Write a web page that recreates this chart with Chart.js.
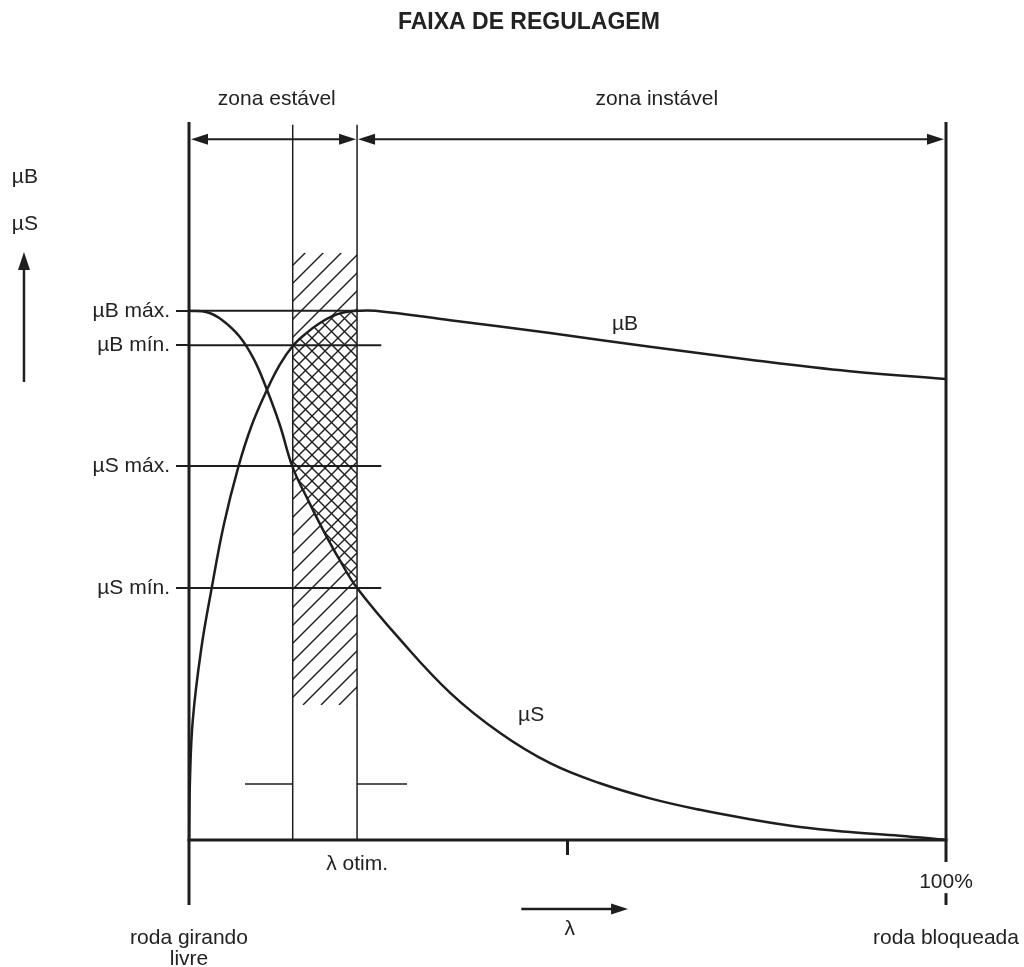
<!DOCTYPE html>
<html><head><meta charset="utf-8">
<script src="https://cdn.jsdelivr.net/npm/chart.js@4.4.1/dist/chart.umd.min.js"></script>
<style>html,body{margin:0;padding:0;background:#fff}#wrap{width:1024px;height:967px;position:relative}</style>
</head><body><div id="wrap"><canvas id="c"></canvas></div>
<script>
// λ (% of slip: 0 = roda girando livre, 100 = roda bloqueada) and friction values (arbitrary units 0..100)
const lambdaMuB = [0,0.13,0.5,1.6,3.0,4.6,6.5,8.3,10.3,12.0,13.7,15.5,17.3,19.0,20.6,22.2,24.6,34.5,47.7,60.9,74.1,87.3,100];
const muB       = [0,8.4,16.7,26.5,35.1,43.9,51.9,57.8,62.7,66.2,68.8,70.6,72.0,73.0,73.5,73.7,73.7,72.4,70.6,68.7,66.9,65.3,64.2];
const lambdaMuS = [0,2.4,4.4,6.7,8.6,10.3,12.0,13.7,15.7,17.7,19.9,22.2,27.9,34.5,41.1,47.7,54.3,60.9,67.5,74.1,80.7,87.3,93.9,100];
const muS       = [73.7,73.5,72.4,70.1,66.9,62.7,57.8,51.9,47.4,43.2,39.0,35.1,27.9,20.5,14.9,10.7,7.9,5.8,4.2,2.9,1.8,1.1,0.6,0];
const yTickValues = [73.7, 68.9, 52.1, 35.1];
const yTickLabels = ['µB máx.', 'µB mín.', 'µS máx.', 'µS mín.'];
const hLineEnds   = [22.2, 25.4, 25.4, 25.4];
const xTickValues = [50];
const lambdaOpt   = [13.7, 22.2];

const FONT = '"Liberation Sans", Arial, Helvetica, sans-serif';
const INK = '#1e1e1e';

function interp(pts, X){
  for(let i=0;i<pts.length-1;i++){const a=pts[i],b=pts[i+1];
    if(X>=a.x&&X<=b.x){const t=(b.x===a.x)?0:(X-a.x)/(b.x-a.x);return a.y+t*(b.y-a.y);}}
  return pts[pts.length-1].y;
}

const decor = {
  id:'decor',
  beforeDatasetsDraw(chart){
    const xs=chart.scales.x, ys=chart.scales.y, ctx=chart.ctx;
    const L=xs.getPixelForValue(lambdaOpt[0]), R=xs.getPixelForValue(lambdaOpt[1]);
    const T=ys.getPixelForValue(81.8), B=ys.getPixelForValue(18.8);
    const pB=chart.getDatasetMeta(0).data.map(e=>({x:e.x,y:e.y}));
    const pS=chart.getDatasetMeta(1).data.map(e=>({x:e.x,y:e.y}));
    const top=[],bot=[];
    const xsamp=[];for(let X=L;X<R;X+=1)xsamp.push(X);xsamp.push(R);
    xsamp.forEach(X=>{top.push([X,Math.max(T,interp(pB,X))]);bot.push([X,Math.min(B,interp(pS,X))]);});
    const poly=()=>{ctx.moveTo(top[0][0],top[0][1]);top.forEach(p=>ctx.lineTo(p[0],p[1]));
      for(let i=bot.length-1;i>=0;i--)ctx.lineTo(bot[i][0],bot[i][1]);ctx.closePath();};
    const lines=(dir,s)=>{ctx.beginPath();
      if(dir==='/'){for(let c=Math.floor((L+T)/s)*s;c<=R+B+s;c+=s){ctx.moveTo(c-B,B);ctx.lineTo(c-T,T);}}
      else{for(let c=Math.floor((L-B)/s)*s;c<=R-T+s;c+=s){ctx.moveTo(c+T,T);ctx.lineTo(c+B,B);}}
      ctx.stroke();};
    ctx.save();ctx.strokeStyle=INK;ctx.lineWidth=1.4;
    ctx.beginPath();ctx.rect(L,T,R-L,B-T);poly();ctx.clip('evenodd');lines('/',18);
    ctx.restore();
    ctx.save();ctx.strokeStyle=INK;ctx.lineWidth=1.4;
    ctx.beginPath();poly();ctx.clip();lines('/',13);lines('\\',13);
    ctx.restore();
  },
  afterDraw(chart){
    const xs=chart.scales.x, ys=chart.scales.y, ctx=chart.ctx;
    const X=v=>xs.getPixelForValue(v), Y=v=>ys.getPixelForValue(v);
    ctx.save();ctx.strokeStyle=INK;ctx.fillStyle=INK;ctx.lineCap='butt';
    const seg=(x1,y1,x2,y2,w)=>{ctx.lineWidth=w;ctx.beginPath();ctx.moveTo(x1,y1);ctx.lineTo(x2,y2);ctx.stroke();};
    const head=(x,y,ang,len,hw)=>{ctx.beginPath();ctx.moveTo(x,y);
      ctx.lineTo(x-len*Math.cos(ang)+hw*Math.sin(ang),y-len*Math.sin(ang)-hw*Math.cos(ang));
      ctx.lineTo(x-len*Math.cos(ang)-hw*Math.sin(ang),y-len*Math.sin(ang)+hw*Math.cos(ang));ctx.closePath();ctx.fill();};
    const arrow=(x1,y1,x2,y2,w,h1,h2,len,hw)=>{const a=Math.atan2(y2-y1,x2-x1);
      seg(x1+(h1?len*0.8*Math.cos(a):0),y1+(h1?len*0.8*Math.sin(a):0),x2-(h2?len*0.8*Math.cos(a):0),y2-(h2?len*0.8*Math.sin(a):0),w);
      if(h1)head(x1,y1,a+Math.PI,len,hw);if(h2)head(x2,y2,a,len,hw);};
    // frame
    seg(X(0),Y(100),X(0),Y(-9.05),3);
    seg(X(0)-1.5,Y(0),X(100)+1.5,Y(0),3);
    seg(X(100),Y(100),X(100),Y(-3.06),3);
    seg(X(100),Y(-7.4),X(100),Y(-9.05),3);
    // zone arrows
    const ay=Y(97.6);
    arrow(X(0)+2,ay,X(lambdaOpt[1])-1,ay,2.2,true,true,17,5.5);
    arrow(X(lambdaOpt[1])+1,ay,X(100)-2,ay,2.2,true,true,17,5.5);
    // vertical µ arrow
    arrow(X(-21.8),Y(63.8),X(-21.8),Y(81.9),2.5,false,true,18,6);
    // λ arrow
    arrow(X(43.9),Y(-9.6),X(58.0),Y(-9.6),2.5,false,true,17,5.5);
    // texts
    ctx.textBaseline='alphabetic';ctx.fillStyle='#222';
    ctx.font='bold 23px '+FONT;ctx.textAlign='center';
    ctx.fillText('FAIXA DE REGULAGEM',X(44.9),Y(112.95));
    ctx.font='21px '+FONT;
    ctx.fillText('zona estável',X(11.6),Y(102.4));
    ctx.fillText('zona instável',X(61.8),Y(102.4));
    ctx.fillText('µB',X(57.6),Y(71.0));
    ctx.fillText('µS',X(45.2),Y(16.6));
    ctx.fillText('λ otim.',X(lambdaOpt[1]),Y(-4.2));
    ctx.fillText('100%',X(100),Y(-6.7));
    ctx.fillText('λ',X(50.3),Y(-13.2));
    ctx.fillText('roda girando',X(0),Y(-14.5));
    ctx.fillText('livre',X(0),Y(-17.4));
    ctx.fillText('roda bloqueada',X(100),Y(-14.5));
    ctx.textAlign='left';
    ctx.fillText('µB',X(-23.4),Y(91.5));
    ctx.fillText('µS',X(-23.4),Y(85.0));
    ctx.restore();
  }
};

const ds=(data,w,extra)=>Object.assign({data,showLine:true,borderColor:INK,borderWidth:w,pointRadius:0,pointHoverRadius:0,fill:false},extra||{});
const datasets=[
  ds(lambdaMuB.map((x,i)=>({x,y:muB[i]})),2.5,{label:'µB',tension:0.4}),
  ds(lambdaMuS.map((x,i)=>({x,y:muS[i]})),2.5,{label:'µS',tension:0.4}),
  ...yTickValues.map((v,i)=>ds([{x:0,y:v},{x:hLineEnds[i],y:v}],2,{label:yTickLabels[i]})),
  ...lambdaOpt.map(v=>ds([{x:v,y:0},{x:v,y:99.6}],1.5,{label:'λ'})),
  ds([{x:7.4,y:7.8},{x:lambdaOpt[0],y:7.8}],1.5,{label:'a'}),
  ds([{x:lambdaOpt[1],y:7.8},{x:28.8,y:7.8}],1.5,{label:'b'})
];

new Chart(document.getElementById('c'),{
  type:'scatter',
  data:{datasets},
  options:{
    responsive:true,maintainAspectRatio:false,animation:false,
    layout:{padding:{left:0,right:78,top:122,bottom:0}},
    plugins:{legend:{display:false},tooltip:{enabled:false},title:{display:false}},
    events:[],
    scales:{
      x:{type:'linear',min:0,max:100,
        afterBuildTicks:s=>{s.ticks=xTickValues.map(v=>({value:v}));},
        afterFit:s=>{s.height=127;},
        ticks:{callback:()=>'',font:{size:1}},
        grid:{drawOnChartArea:false,drawTicks:true,tickLength:15,lineWidth:3,color:INK},
        border:{display:false}},
      y:{type:'linear',min:0,max:100,
        afterBuildTicks:s=>{s.ticks=yTickValues.map(v=>({value:v}));},
        afterFit:s=>{s.width=189;},
        ticks:{autoSkip:false,padding:6,color:'#222',font:{size:21,family:FONT},
          callback:v=>yTickLabels[yTickValues.indexOf(v)]},
        grid:{drawOnChartArea:false,drawTicks:true,tickLength:13,lineWidth:2,color:INK},
        border:{display:false}}
    }
  },
  plugins:[decor]
});
</script></body></html>
